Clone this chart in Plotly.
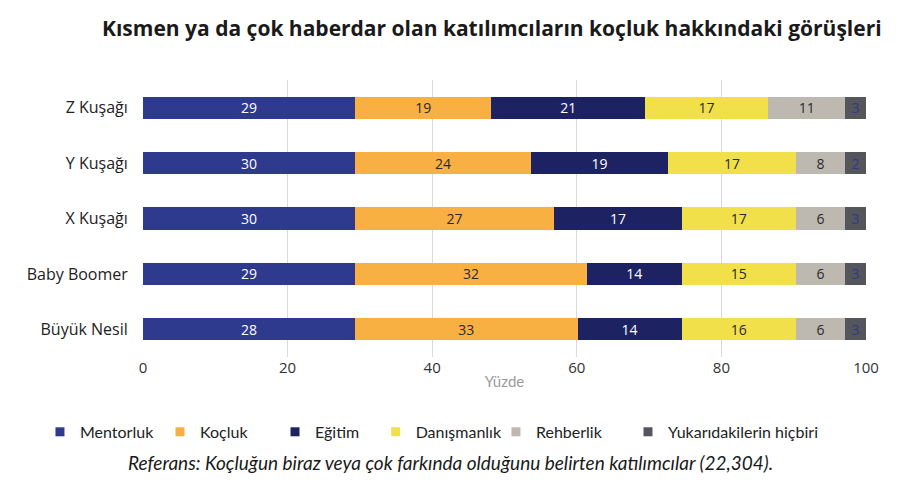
import plotly.graph_objects as go

categories = ["Z Kuşağı", "Y Kuşağı", "X Kuşağı", "Baby Boomer", "Büyük Nesil"]
series_names = ["Mentorluk", "Koçluk", "Eğitim", "Danışmanlık", "Rehberlik", "Yukarıdakilerin hiçbiri"]

# bar lengths as drawn in the picture (percent)
mentorluk = [29.3, 29.3, 29.3, 29.3, 29.3]
kocluk = [18.9, 24.4, 27.6, 32.1, 30.8]
egitim = [21.2, 18.9, 17.6, 13.1, 14.4]
danismanlik = [17.1, 17.7, 15.8, 15.8, 15.8]
rehberlik = [10.6, 6.8, 6.8, 6.8, 6.8]
hicbiri = [2.9, 2.9, 2.9, 2.9, 2.9]

# numbers printed on the bars
mentorluk_labels = [29, 30, 30, 29, 28]
kocluk_labels = [19, 24, 27, 32, 33]
egitim_labels = [21, 19, 17, 14, 14]
danismanlik_labels = [17, 17, 17, 15, 16]
rehberlik_labels = [11, 8, 6, 6, 6]
hicbiri_labels = [3, 2, 3, 3, 3]

x_ticks = [0, 20, 40, 60, 80, 100]

series_values = [mentorluk, kocluk, egitim, danismanlik, rehberlik, hicbiri]
series_labels = [mentorluk_labels, kocluk_labels, egitim_labels, danismanlik_labels,
                 rehberlik_labels, hicbiri_labels]
colors = ["#2E3A8E", "#F8B042", "#1C2262", "#F1E04A", "#BDB9B1", "#55565B"]
text_colors = ["#FFFFFF", "#2A2A2A", "#FFFFFF", "#2A2A2A", "#2A2A2A", "#2E3A8E"]
legend_x = [-0.1425, 0.0235, 0.1826, 0.3218, 0.4882, 0.6708]

fig = go.Figure()
for name, vals, labs, c, tc in zip(series_names, series_values, series_labels, colors, text_colors):
    fig.add_trace(go.Bar(
        y=categories, x=vals, name=name, orientation="h",
        marker=dict(color=c, line=dict(width=0)),
        text=[str(v) for v in labs], textposition="inside",
        insidetextanchor="middle", textangle=0, constraintext="none",
        textfont=dict(color=tc, size=14, family="Open Sans"),
        hoverinfo="skip", showlegend=False,
    ))

legend_layout = {}
for i, (name, c, lx) in enumerate(zip(series_names, colors, legend_x)):
    key = "legend" if i == 0 else f"legend{i + 1}"
    fig.add_trace(go.Scatter(
        x=[None], y=[None], mode="markers", name=name,
        marker=dict(symbol="square", size=9, color=c),
        legend=key, showlegend=True, hoverinfo="skip",
    ))
    legend_layout[key] = dict(
        orientation="h", x=lx, xanchor="left", y=-0.209, yanchor="top",
        font=dict(size=16, color="#222222", family="Lato"),
        itemwidth=30, itemclick=False, bgcolor="rgba(0,0,0,0)",
    )

fig.update_layout(
    barmode="stack",
    bargap=0.6,
    width=894, height=477,
    margin=dict(l=135, r=36, t=72, b=128),
    plot_bgcolor="white", paper_bgcolor="white",
    xaxis=dict(
        range=[0, 100], tickvals=x_ticks, ticktext=[str(t) for t in x_ticks],
        showgrid=True, gridcolor="#DADADA", gridwidth=1, zeroline=False,
        showline=False, ticks="", ticklen=0, automargin=False,
        tickfont=dict(size=15, color="#333333", family="Open Sans"),
        title=dict(text="Yüzde", font=dict(size=15, color="#9A9A9A", family="Lato"), standoff=0),
    ),
    yaxis=dict(
        categoryorder="array", categoryarray=categories, autorange="reversed",
        showgrid=False, zeroline=False, showline=False, ticks="outside",
        ticklen=11, tickcolor="rgba(0,0,0,0)", automargin=False,
        tickfont=dict(size=16, color="#222222", family="Open Sans"),
    ),
    showlegend=True,
    annotations=[
        dict(text="<b>Kısmen ya da çok haberdar olan katılımcıların koçluk hakkındaki görüşleri</b>",
             xref="paper", yref="paper", x=0.483, y=1.0, yanchor="middle", xanchor="center",
             yshift=52, showarrow=False,
             font=dict(size=21, color="#1A1A1A", family="Open Sans")),
        dict(text="<i>Referans: Koçluğun biraz veya çok farkında olduğunu belirten katılımcılar (22,304).</i>",
             xref="paper", yref="paper", x=0.426, y=0, yanchor="middle", xanchor="center",
             yshift=-105, showarrow=False,
             font=dict(size=19, color="#1A1A1A", family="Lato")),
    ],
    **legend_layout,
)

fig.write_html("out.html")
